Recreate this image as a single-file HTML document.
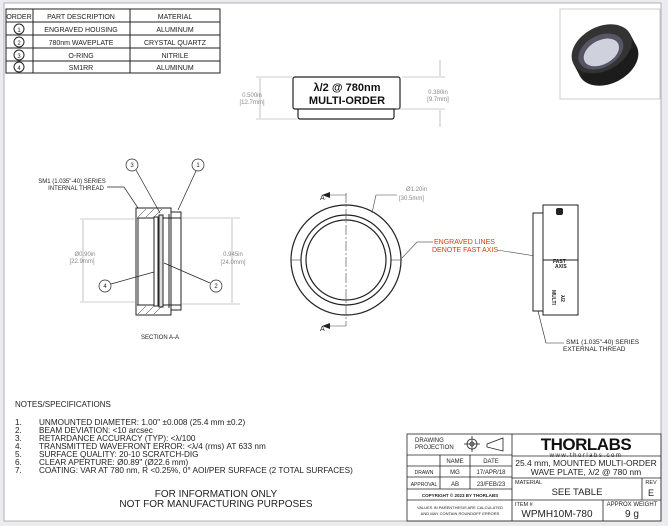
<!DOCTYPE html>
<html><head><meta charset="utf-8"><style>
html,body{margin:0;padding:0;background:#ececf0;}
svg{display:block;font-family:"Liberation Sans",sans-serif;}
</style></head><body>
<svg width="668" height="526" viewBox="0 0 668 526" xmlns="http://www.w3.org/2000/svg">
<rect x="0" y="0" width="668" height="526" fill="#ececf0"/>
<rect x="4" y="3" width="657" height="518" fill="#fff" stroke="#b0b0b0" stroke-width="1"/>

<!-- BOM table -->
<g stroke="#222" stroke-width="1" fill="none">
<rect x="6" y="9" width="214" height="64"/>
<line x1="6" y1="22" x2="220" y2="22"/><line x1="6" y1="35" x2="220" y2="35"/>
<line x1="6" y1="48" x2="220" y2="48"/><line x1="6" y1="61" x2="220" y2="61"/>
<line x1="33" y1="9" x2="33" y2="73"/><line x1="130" y1="9" x2="130" y2="73"/>
<circle cx="19" cy="29" r="5"/><circle cx="19" cy="42" r="5"/><circle cx="19" cy="55" r="5"/><circle cx="19" cy="67" r="5"/>
</g>
<g font-size="7" fill="#222" text-anchor="middle">
<text x="19" y="19">ORDER</text><text x="81" y="19">PART DESCRIPTION</text><text x="175" y="19">MATERIAL</text>
<text x="19" y="32" font-size="6">1</text><text x="81" y="32">ENGRAVED HOUSING</text><text x="175" y="32">ALUMINUM</text>
<text x="19" y="45" font-size="6">2</text><text x="81" y="45">780nm WAVEPLATE</text><text x="175" y="45">CRYSTAL QUARTZ</text>
<text x="19" y="58" font-size="6">3</text><text x="81" y="58">O-RING</text><text x="175" y="58">NITRILE</text>
<text x="19" y="70" font-size="6">4</text><text x="81" y="70">SM1RR</text><text x="175" y="70">ALUMINUM</text>
</g>

<!-- 3D image -->
<rect x="560" y="9" width="100" height="90" fill="#fff" stroke="#ccc"/>
<g transform="rotate(-28 605 55)">
<ellipse cx="605" cy="62" rx="32" ry="22" fill="#1c1c1c"/>
<rect x="573" y="48" width="64" height="14" fill="#222"/>
<ellipse cx="605" cy="48" rx="32" ry="22" fill="#333"/>
<ellipse cx="603" cy="50" rx="24" ry="16" fill="#556"/>
<ellipse cx="603" cy="51" rx="19" ry="12" fill="#cfd2dc"/>
</g>

<!-- top view -->
<g stroke="#222" fill="#fff" stroke-width="1.2">
<rect x="298" y="107" width="96" height="12" rx="2"/>
<rect x="293" y="77" width="107" height="32" rx="2"/>
</g>
<text x="347" y="91" font-size="11" font-weight="bold" text-anchor="middle" fill="#111">λ/2 @ 780nm</text>
<text x="347" y="104" font-size="11" font-weight="bold" text-anchor="middle" fill="#111">MULTI-ORDER</text>
<g stroke="#999" stroke-width="0.6" fill="none">
<line x1="256" y1="77" x2="292" y2="77"/><line x1="256" y1="119" x2="297" y2="119"/>
<line x1="260" y1="78" x2="260" y2="118"/>
<line x1="402" y1="77" x2="445" y2="77"/><line x1="396" y1="109" x2="445" y2="109"/>
<line x1="440" y1="60" x2="440" y2="76"/><line x1="440" y1="110" x2="440" y2="127"/>
</g>
<g font-size="6" fill="#888" text-anchor="middle">
<text x="252" y="97">0.500in</text><text x="252" y="104">[12.7mm]</text>
<text x="438" y="94">0.380in</text><text x="438" y="101">[9.7mm]</text>
</g>

<!-- section view -->
<g stroke="#222" fill="#fff" stroke-width="1">
<rect x="136" y="208" width="35" height="107"/>
<rect x="171" y="212" width="10" height="98"/>
<line x1="137" y1="218" x2="181" y2="218"/><line x1="137" y1="305" x2="181" y2="305"/>
<rect x="154" y="217" width="4" height="89"/>
<rect x="159" y="215" width="4" height="92" fill="#ddd"/>
<line x1="138" y1="218" x2="138" y2="305"/><line x1="169" y1="214" x2="169" y2="308"/>
</g>
<g stroke="#222" stroke-width="0.5">
<line x1="138" y1="217" x2="146" y2="209"/><line x1="146" y1="217" x2="154" y2="209"/><line x1="154" y1="217" x2="162" y2="209"/>
<line x1="138" y1="314" x2="146" y2="306"/><line x1="146" y1="314" x2="154" y2="306"/><line x1="154" y1="314" x2="162" y2="306"/>
</g>
<g stroke="#999" stroke-width="0.6" fill="none">
<line x1="80" y1="219" x2="136" y2="219"/><line x1="80" y1="302" x2="136" y2="302"/><line x1="83" y1="220" x2="83" y2="301"/>
<line x1="182" y1="218" x2="240" y2="218"/><line x1="182" y1="304" x2="240" y2="304"/><line x1="232" y1="219" x2="232" y2="303"/>
</g>
<g font-size="6" fill="#888" text-anchor="middle">
<text x="85" y="256">Ø0.90in</text><text x="82" y="263">[22.9mm]</text>
<text x="233" y="256">0.945in</text><text x="233" y="264">[24.0mm]</text>
</g>
<g stroke="#222" stroke-width="0.7" fill="#fff">
<circle cx="132" cy="165" r="6"/><circle cx="198" cy="165" r="6"/>
<circle cx="105" cy="286" r="6"/><circle cx="216" cy="286" r="6"/>
<line x1="136" y1="170" x2="160" y2="213"/><line x1="196" y1="171" x2="178" y2="210"/>
<line x1="111" y1="284" x2="154" y2="272"/><line x1="210" y1="283" x2="164" y2="263"/>
<line x1="107" y1="187" x2="124" y2="187"/><line x1="124" y1="187" x2="138" y2="208"/>
</g>
<g font-size="6" fill="#222" text-anchor="middle">
<text x="132" y="167">3</text><text x="198" y="167">1</text><text x="105" y="288">4</text><text x="216" y="288">2</text>
<text x="72" y="183">SM1 (1.035"-40) SERIES</text><text x="76" y="190">INTERNAL THREAD</text>
<text x="160" y="339">SECTION A-A</text>
</g>

<!-- front view -->
<g stroke="#222" fill="none" stroke-width="1.2">
<circle cx="346" cy="260" r="55"/><circle cx="346" cy="260" r="45"/><circle cx="346" cy="260" r="40"/>
</g>
<g stroke="#444" stroke-width="0.6" fill="none">
<line x1="346" y1="193" x2="346" y2="326" stroke-dasharray="10,2,2,2"/>
<line x1="328" y1="195" x2="346" y2="195"/><line x1="328" y1="326" x2="346" y2="326"/>
<line x1="291" y1="260" x2="301" y2="260"/><line x1="391" y1="260" x2="401" y2="260"/>
<line x1="372" y1="213" x2="376" y2="195"/><line x1="376" y1="195" x2="397" y2="195"/>
<line x1="402" y1="258" x2="417" y2="242"/><line x1="417" y1="242" x2="433" y2="242"/>
<line x1="497" y1="250" x2="548" y2="258"/>
</g>
<g fill="#222"><polygon points="322,195 330,192 330,198"/><polygon points="322,326 330,323 330,329"/></g>
<text x="320" y="200" font-size="7" fill="#222">A</text><text x="320" y="331" font-size="7" fill="#222">A</text>
<text x="406" y="191" font-size="6" fill="#888">Ø1.20in</text><text x="399" y="200" font-size="6" fill="#888">[30.5mm]</text>
<text x="434" y="244" font-size="7" fill="#d04010">ENGRAVED LINES</text>
<text x="432" y="252" font-size="7" fill="#d04010">DENOTE FAST AXIS</text>

<!-- side view -->
<g stroke="#222" fill="#fff" stroke-width="1">
<rect x="533" y="213" width="10" height="98"/>
<rect x="543" y="205" width="35" height="110"/>
<line x1="543" y1="260" x2="578" y2="260"/>
</g>
<g fill="#222" font-size="5" font-weight="bold">
<rect x="556" y="208" width="7" height="7" rx="2"/>
<text x="553" y="263">FAST</text><text x="555" y="268">AXIS</text>
<text transform="translate(552,290) rotate(90)">MULTI</text>
<text transform="translate(561,295) rotate(90)">λ/2</text>
</g>
<polyline points="538,311 546,343 564,343" fill="none" stroke="#222" stroke-width="0.6"/>
<text x="566" y="344" font-size="6.5" fill="#222">SM1 (1.035"-40) SERIES</text>
<text x="563" y="351" font-size="6.5" fill="#222">EXTERNAL THREAD</text>

<!-- notes -->
<g font-size="8.2" fill="#222">
<text x="15" y="407" font-size="8">NOTES/SPECIFICATIONS</text>
<text x="15" y="425">1.</text><text x="39" y="425">UNMOUNTED DIAMETER: 1.00" ±0.008 (25.4 mm ±0.2)</text>
<text x="15" y="433">2.</text><text x="39" y="433">BEAM DEVIATION: &lt;10 arcsec</text>
<text x="15" y="441">3.</text><text x="39" y="441">RETARDANCE ACCURACY (TYP): &lt;λ/100</text>
<text x="15" y="449">4.</text><text x="39" y="449">TRANSMITTED WAVEFRONT ERROR: &lt;λ/4 (rms) AT 633 nm</text>
<text x="15" y="457">5.</text><text x="39" y="457">SURFACE QUALITY: 20-10 SCRATCH-DIG</text>
<text x="15" y="465">6.</text><text x="39" y="465">CLEAR APERTURE: Ø0.89" (Ø22.6 mm)</text>
<text x="15" y="473">7.</text><text x="39" y="473">COATING: VAR AT 780 nm, R &lt;0.25%, 0° AOI/PER SURFACE (2 TOTAL SURFACES)</text>
</g>
<text x="216" y="497" font-size="10" fill="#222" text-anchor="middle">FOR INFORMATION ONLY</text>
<text x="216" y="507" font-size="10" fill="#222" text-anchor="middle">NOT FOR MANUFACTURING PURPOSES</text>

<!-- title block -->
<g stroke="#222" stroke-width="0.8" fill="none">
<rect x="407" y="434" width="254" height="87"/>
<line x1="512" y1="434" x2="512" y2="521"/>
<line x1="407" y1="455" x2="512" y2="455"/><line x1="407" y1="466" x2="512" y2="466"/>
<line x1="407" y1="477" x2="512" y2="477"/><line x1="407" y1="489" x2="512" y2="489"/>
<line x1="407" y1="500" x2="512" y2="500"/>
<line x1="440" y1="455" x2="440" y2="489"/><line x1="470" y1="455" x2="470" y2="489"/>
<line x1="512" y1="456" x2="661" y2="456"/><line x1="512" y1="478" x2="661" y2="478"/><line x1="512" y1="500" x2="661" y2="500"/>
<line x1="642" y1="478" x2="642" y2="500"/><line x1="603" y1="500" x2="603" y2="521"/>
<circle cx="472" cy="444" r="5"/><circle cx="472" cy="444" r="2"/>
<line x1="464" y1="444" x2="480" y2="444"/><line x1="472" y1="436" x2="472" y2="452"/>
<polygon points="487,444 503,438 503,451 487,447"/>
</g>
<g font-size="6" fill="#222">
<text x="415" y="442">DRAWING</text><text x="415" y="449">PROJECTION</text>
<text x="455" y="463" text-anchor="middle">NAME</text><text x="491" y="463" text-anchor="middle">DATE</text>
<text x="424" y="474" text-anchor="middle" font-size="5">DRAWN</text><text x="455" y="474" text-anchor="middle">MG</text><text x="491" y="474" text-anchor="middle">17/APR/18</text>
<text x="424" y="486" text-anchor="middle" font-size="5">APPROVAL</text><text x="455" y="486" text-anchor="middle">AB</text><text x="491" y="486" text-anchor="middle">23/FEB/23</text>
<text x="460" y="497" text-anchor="middle" font-size="4.5" font-weight="bold">COPYRIGHT © 2023 BY THORLABS</text>
<text x="460" y="509" text-anchor="middle" font-size="4">VALUES IN PARENTHESIS ARE CALCULATED</text>
<text x="460" y="515" text-anchor="middle" font-size="4">AND MAY CONTAIN ROUNDOFF ERRORS</text>
</g>
<text x="586" y="450" font-size="17" font-weight="bold" text-anchor="middle" fill="#111" letter-spacing="-0.5">THORLABS</text>
<text x="586" y="457" font-size="6" text-anchor="middle" fill="#222" letter-spacing="1.5">www.thorlabs.com</text>
<text x="586" y="466" font-size="8.5" text-anchor="middle" fill="#222">25.4 mm, MOUNTED MULTI-ORDER</text>
<text x="586" y="475" font-size="8.5" text-anchor="middle" fill="#222">WAVE PLATE, λ/2 @ 780 nm</text>
<text x="515" y="484" font-size="5.5" fill="#222">MATERIAL</text>
<text x="577" y="495" font-size="9.5" text-anchor="middle" fill="#222">SEE TABLE</text>
<text x="651" y="484" font-size="5.5" text-anchor="middle" fill="#222">REV</text>
<text x="651" y="496" font-size="9" text-anchor="middle" fill="#222">E</text>
<text x="515" y="506" font-size="5.5" fill="#222">ITEM #</text>
<text x="557" y="517" font-size="10" text-anchor="middle" fill="#222">WPMH10M-780</text>
<text x="632" y="506" font-size="6" text-anchor="middle" fill="#222">APPROX WEIGHT</text>
<text x="632" y="517" font-size="10" text-anchor="middle" fill="#222">9 g</text>
</svg>
</body></html>
